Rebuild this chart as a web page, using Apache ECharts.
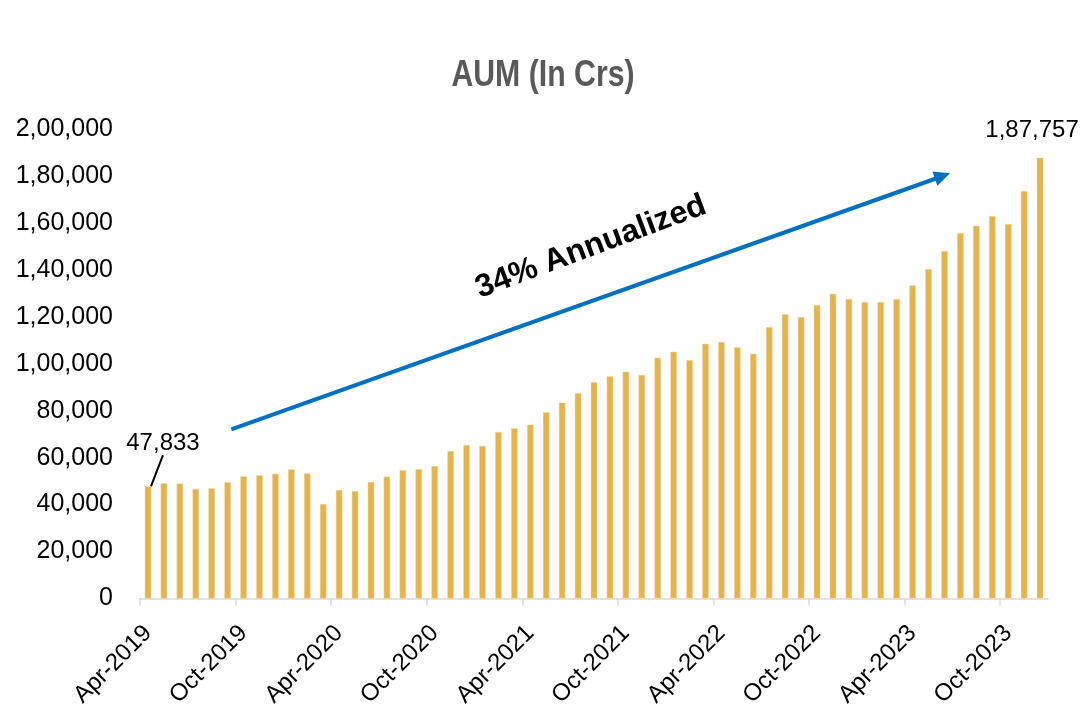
<!DOCTYPE html>
<html>
<head>
<meta charset="utf-8">
<script src="https://cdn.jsdelivr.net/npm/echarts@6/dist/echarts.min.js"></script>
<style>
  html, body { margin: 0; padding: 0; background: #ffffff; }
  #chart { width: 1084px; height: 712px; }
</style>
</head>
<body>
<div id="chart"></div>
<script>
const categories = [
  'Apr-2019','May-2019','Jun-2019','Jul-2019','Aug-2019','Sep-2019','Oct-2019','Nov-2019','Dec-2019',
  'Jan-2020','Feb-2020','Mar-2020','Apr-2020','May-2020','Jun-2020','Jul-2020','Aug-2020','Sep-2020',
  'Oct-2020','Nov-2020','Dec-2020','Jan-2021','Feb-2021','Mar-2021','Apr-2021','May-2021','Jun-2021',
  'Jul-2021','Aug-2021','Sep-2021','Oct-2021','Nov-2021','Dec-2021','Jan-2022','Feb-2022','Mar-2022',
  'Apr-2022','May-2022','Jun-2022','Jul-2022','Aug-2022','Sep-2022','Oct-2022','Nov-2022','Dec-2022',
  'Jan-2023','Feb-2023','Mar-2023','Apr-2023','May-2023','Jun-2023','Jul-2023','Aug-2023','Sep-2023',
  'Oct-2023','Nov-2023','Dec-2023'
];
// boundaries between months (for tick marks): every month start plus the end of the range
const tickBoundaries = categories.concat(['Jan-2024']);

const aumValues = [
  47833, 49070, 49000, 46650, 46940, 49500, 52050, 52480, 53180,
  55030, 53330, 40260, 46220, 45790, 49630, 51900, 54600, 55030,
  56440, 62830, 65390, 65000, 70950, 72500, 74040, 79320, 83410,
  87540, 92100, 94650, 96610, 95210, 102580, 105130, 101600, 108540,
  109270, 107000, 104280, 115650, 121060, 119910, 125030, 129840, 127580,
  126300, 126300, 127580, 133420, 140360, 148030, 155700, 158810, 162940,
  159530, 173590, 187757
];

const yTicks = [0, 20000, 40000, 60000, 80000, 100000, 120000, 140000, 160000, 180000, 200000];
const labelledIndices = [0, 56];
const titleText = 'AUM (In Crs)';
const growthText = '34% Annualized';

function indianFormat(n) {
  const s = String(Math.round(n));
  if (s.length <= 3) return s;
  const last3 = s.slice(-3);
  let rest = s.slice(0, -3);
  const parts = [];
  while (rest.length > 2) {
    parts.unshift(rest.slice(-2));
    rest = rest.slice(0, -2);
  }
  if (rest.length) parts.unshift(rest);
  return parts.join(',') + ',' + last3;
}

const FONT = '"Liberation Sans", Arial, sans-serif';

const seriesData = aumValues.map((v, i) => {
  if (labelledIndices.indexOf(i) >= 0) {
    return {
      value: v,
      label: {
        show: true,
        position: 'top',
        formatter: (p) => indianFormat(p.value),
        color: '#000000',
        fontSize: 24,
        fontFamily: FONT
      },
      labelLine: { show: i === 0, lineStyle: { color: '#000000', width: 2 } }
    };
  }
  return v;
});

const chart = echarts.init(document.getElementById('chart'), null, { renderer: 'canvas' });

const option = {
  backgroundColor: '#ffffff',
  animation: false,
  grid: { left: 140, right: 36, top: 129, bottom: 113.5, containLabel: false, outerBoundsMode: 'none' },
  xAxis: [
    {
      type: 'category',
      data: categories,
      boundaryGap: true,
      position: 'bottom',
      axisLine: { show: true, lineStyle: { color: '#D9D9D9', width: 1.5 } },
      axisTick: { show: false },
      axisLabel: {
        interval: 5,
        rotate: 45,
        margin: 31,
        color: '#000000',
        fontSize: 24,
        fontFamily: FONT
      },
      splitLine: { show: false }
    },
    {
      type: 'category',
      data: tickBoundaries,
      boundaryGap: false,
      position: 'bottom',
      offset: 0,
      axisLine: { show: false },
      axisTick: { show: true, interval: 5, length: 7, lineStyle: { color: '#D9D9D9', width: 1.5 } },
      axisLabel: { show: false, interval: 5, showMinLabel: true, showMaxLabel: false },
      splitLine: { show: false }
    }
  ],
  yAxis: {
    type: 'value',
    min: yTicks[0],
    max: yTicks[yTicks.length - 1],
    interval: yTicks[1] - yTicks[0],
    axisLine: { show: false },
    axisTick: { show: false },
    splitLine: { show: false },
    axisLabel: {
      margin: 27,
      color: '#000000',
      fontSize: 25,
      fontFamily: FONT,
      formatter: (v) => indianFormat(v)
    }
  },
  series: [{
    type: 'bar',
    xAxisIndex: 0,
    data: seriesData,
    barWidth: 6.5,
    itemStyle: { color: '#E4B34B', borderColor: '#F2D9A0', borderWidth: 0.5 },
    labelLayout: (params) => {
      if (params.dataIndex === 0) return { dx: 15, dy: -26 };
      if (params.dataIndex === aumValues.length - 1) return { dx: -8, dy: -10 };
      return {};
    }
  }],
  graphic: [
    {
      type: 'text',
      x: 543,
      y: 76,
      scaleX: 0.84,
      style: {
        text: titleText,
        fill: '#595959',
        font: 'bold 36px "Liberation Sans", Arial, sans-serif',
        textAlign: 'center',
        textVerticalAlign: 'middle'
      },
      z: 100
    },
    {
      type: 'line',
      shape: { x1: 231.3, y1: 429.3, x2: 936, y2: 178.5 },
      style: { stroke: '#0070C0', lineWidth: 4 },
      z: 100
    },
    {
      type: 'polygon',
      shape: { points: [[950, 173.3], [932.4, 171.6], [937.4, 185.8]] },
      style: { fill: '#0070C0' },
      z: 100
    },
    {
      type: 'text',
      x: 591,
      y: 247,
      rotation: 20.5 * Math.PI / 180,
      style: {
        text: growthText,
        fill: '#000000',
        font: 'bold 32px "Liberation Sans", Arial, sans-serif',
        textAlign: 'center',
        textVerticalAlign: 'middle'
      },
      z: 100
    }
  ]
};

chart.setOption(option);
</script>
</body>
</html>
